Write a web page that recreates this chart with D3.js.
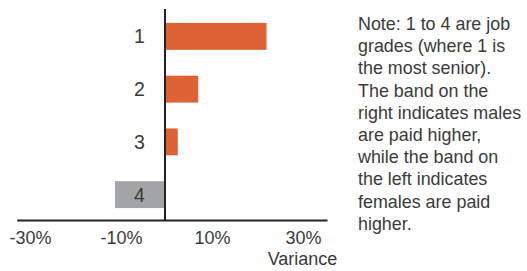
<!DOCTYPE html>
<html><head><meta charset="utf-8">
<script src="https://cdn.jsdelivr.net/npm/d3@7"></script>
<style>
html,body{margin:0;padding:0;background:#fff;}
svg{display:block;font-family:"Liberation Sans",Arial,sans-serif;}
</style></head>
<body>
<svg id="chart" width="527" height="271"></svg>
<script>
const grades = ["1", "2", "3", "4"];
const variance = [0.223, 0.073, 0.028, -0.110];
const tickValues = [-0.30, -0.10, 0.10, 0.30];
const tickLabels = ["-30%", "-10%", "10%", "30%"];
const axisTitle = "Variance";
const noteLines = ["Note: 1 to 4 are job", "grades (where 1 is", "the most senior).", "The band on the", "right indicates males", "are paid higher,", "while the band on", "the left indicates", "females are paid", "higher."];

const svg = d3.select("#chart");
const x = d3.scaleLinear().domain([-0.326, 0.356]).range([16.7, 327]);
const y = d3.scaleBand().domain(grades).range([10, 221]).paddingInner(0.49).paddingOuter(0.245);
const axisY = 220;
const textColor = "#3a3a3a";

svg.append("g").selectAll("rect").data(grades).join("rect")
  .attr("x", (d,i) => x(Math.min(0, variance[i])))
  .attr("width", (d,i) => Math.abs(x(variance[i]) - x(0)))
  .attr("y", d => y(d))
  .attr("height", y.bandwidth())
  .attr("fill", (d,i) => variance[i] >= 0 ? "#DF6235" : "#A2A4A6");

// bottom axis
const xAxis = d3.axisBottom(x).tickValues(tickValues).tickFormat((d,i) => tickLabels[i]).tickSize(0).tickPadding(11);
const gx = svg.append("g").attr("transform", `translate(0,${axisY})`).call(xAxis);
gx.select(".domain").attr("stroke", "#222").attr("stroke-width", 2);
gx.selectAll("text").attr("font-size", 18).attr("fill", textColor).attr("font-family", "Liberation Sans, Arial, sans-serif")
  .attr("dx", 1.5);

svg.append("text").attr("x", x(0.30) + 1).attr("y", 265).attr("text-anchor", "middle")
  .attr("font-size", 18).attr("fill", textColor).text(axisTitle);

// zero line
svg.append("line").attr("x1", x(0)).attr("x2", x(0)).attr("y1", 9).attr("y2", axisY + 1)
  .attr("stroke", "#222").attr("stroke-width", 2);

// category labels
svg.append("g").selectAll("text").data(grades).join("text")
  .attr("x", 139.5).attr("y", d => y(d) + y.bandwidth()/2 + 7)
  .attr("text-anchor", "middle").attr("font-size", 19.5).attr("fill", textColor).text(d => d);

// note
const note = svg.append("text").attr("x", 358).attr("y", 30).attr("font-size", 17.9).attr("fill", textColor);
note.selectAll("tspan").data(noteLines).join("tspan")
  .attr("x", 358).attr("dy", (d,i) => i === 0 ? 0 : 22.2).text(d => d);
</script>
</body></html>
